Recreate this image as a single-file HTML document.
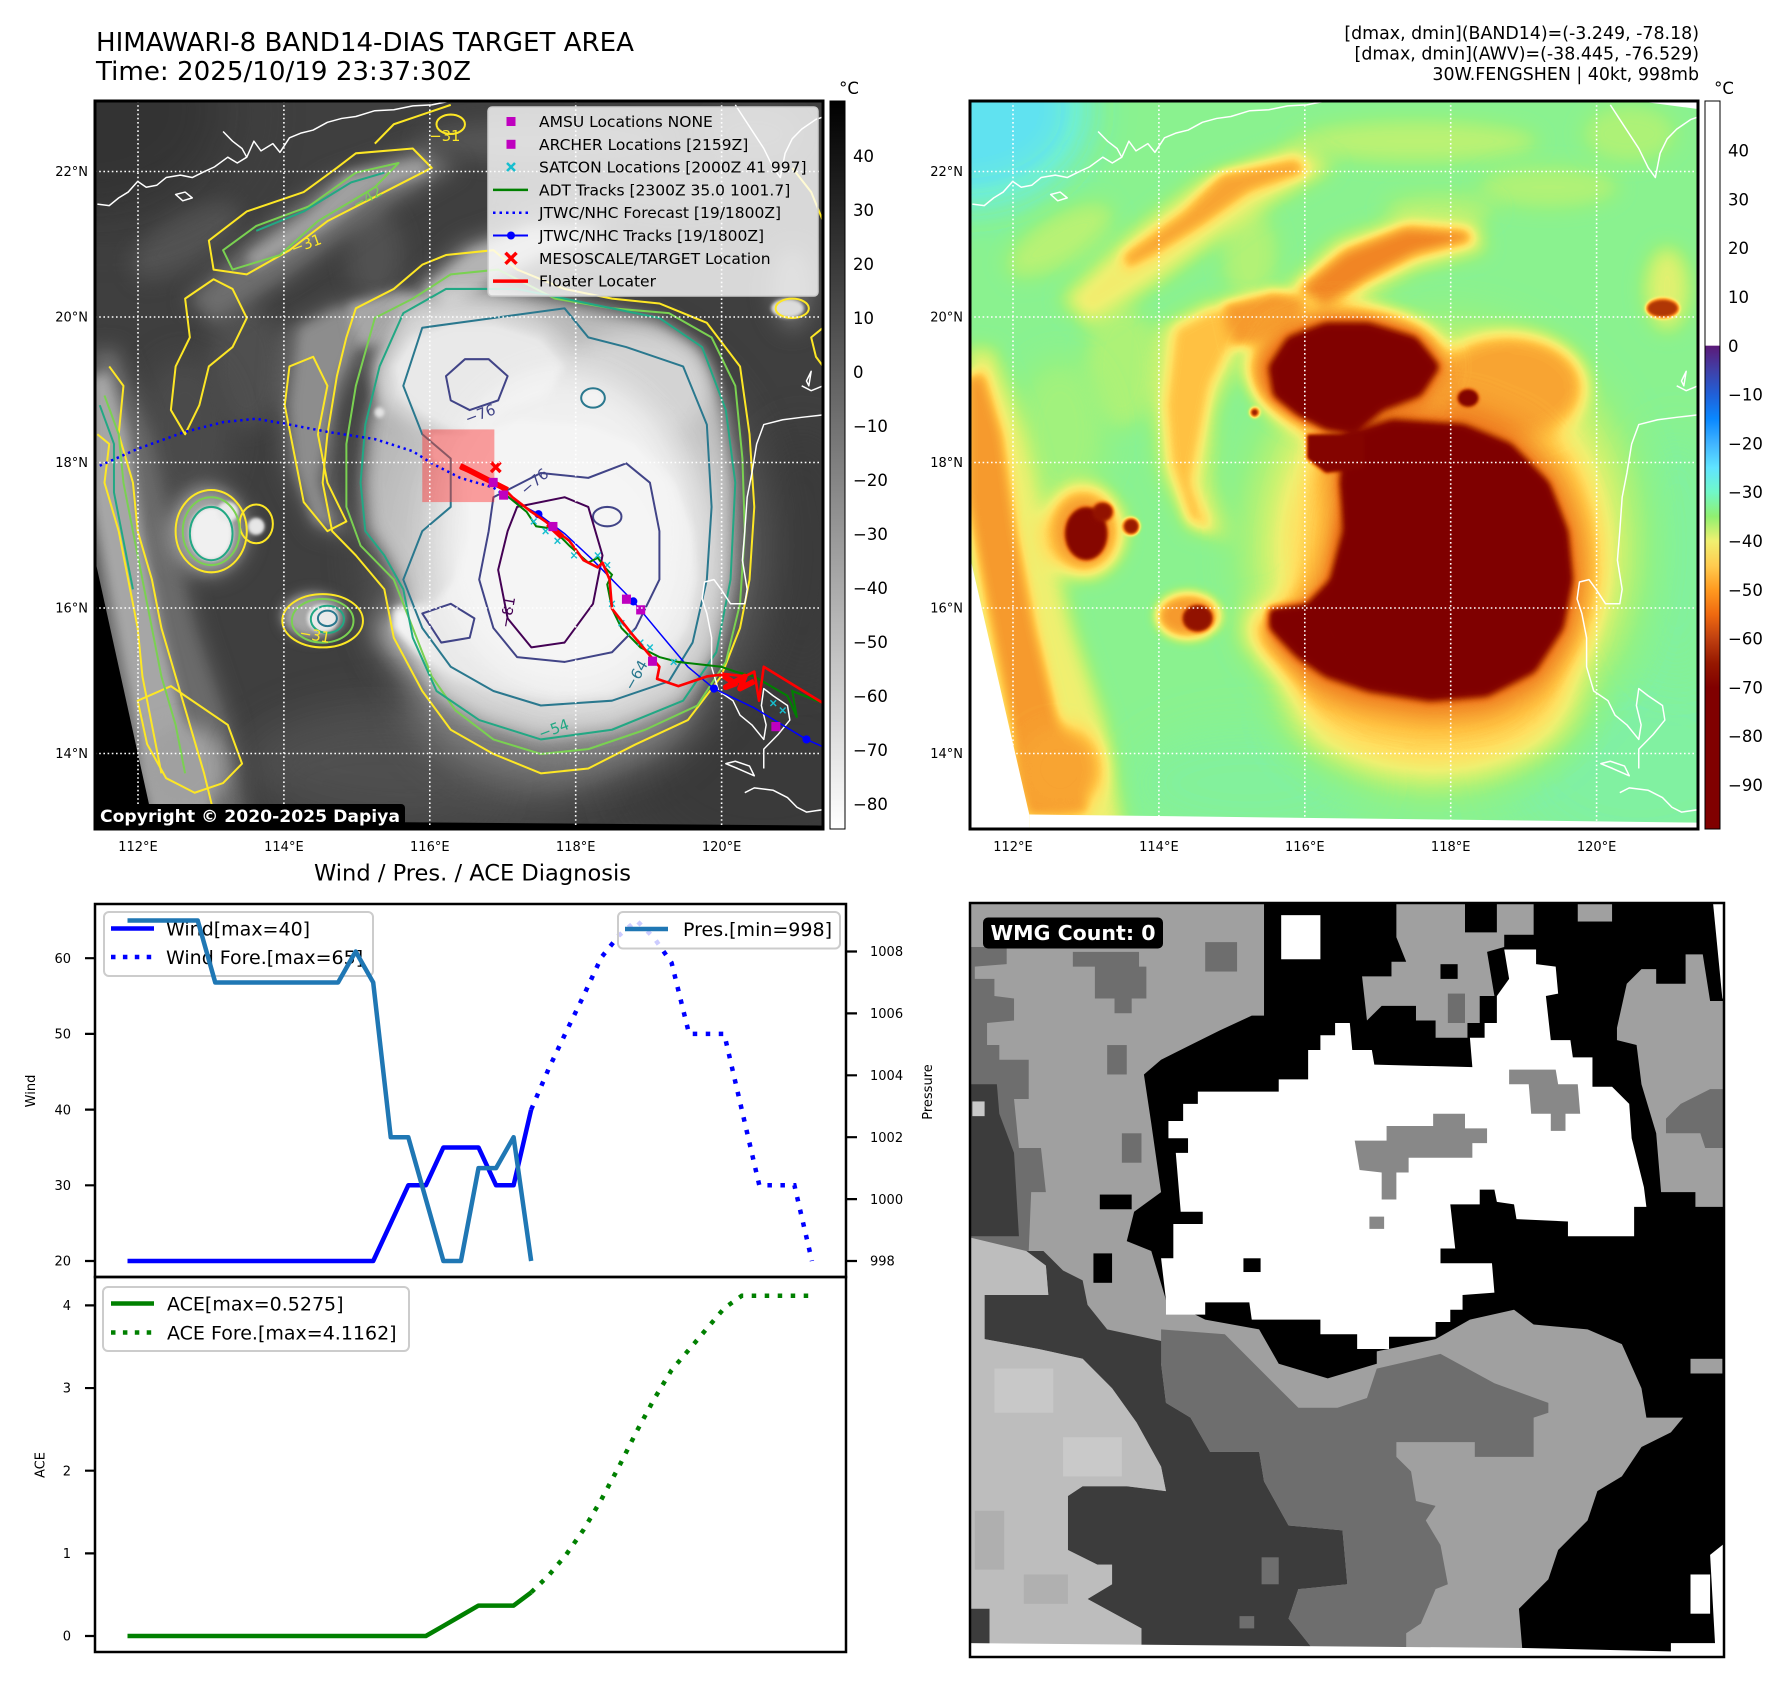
<!DOCTYPE html>
<html><head><meta charset="utf-8">
<style>
html,body{margin:0;padding:0;background:#fff;}
svg{display:block;}
text{font-family:"DejaVu Sans","Liberation Sans",sans-serif;}
</style></head><body>
<svg width="1788" height="1690" viewBox="0 0 1788 1690" xmlns="http://www.w3.org/2000/svg">
<defs>
<filter id="b4" x="-50%" y="-50%" width="200%" height="200%"><feGaussianBlur stdDeviation="4"/></filter>
<filter id="b8" x="-50%" y="-50%" width="200%" height="200%"><feGaussianBlur stdDeviation="8"/></filter>
<filter id="b12" x="-50%" y="-50%" width="200%" height="200%"><feGaussianBlur stdDeviation="12"/></filter>
<filter id="b20" x="-50%" y="-50%" width="200%" height="200%"><feGaussianBlur stdDeviation="20"/></filter>
<filter id="b30" x="-50%" y="-50%" width="200%" height="200%"><feGaussianBlur stdDeviation="30"/></filter>
<filter id="b45" x="-50%" y="-50%" width="200%" height="200%"><feGaussianBlur stdDeviation="45"/></filter>
<filter id="b60" x="-50%" y="-50%" width="200%" height="200%"><feGaussianBlur stdDeviation="60"/></filter>
<filter id="cmap" filterUnits="userSpaceOnUse" x="965" y="95" width="740" height="740" color-interpolation-filters="sRGB">
<feComponentTransfer>
<feFuncR type="table" tableValues=".25 .28 .31 .38 .44 .48 .53 .58 .68 .80 .94 1 1 .97 .94 .85 .72 .63 .53 .5 .5"/>
<feFuncG type="table" tableValues=".63 .72 .82 .89 .94 .94 .95 .95 .95 .95 .94 .88 .75 .63 .50 .38 .25 .13 .03 0 0"/>
<feFuncB type="table" tableValues="1 1 1 .94 .82 .70 .58 .52 .47 .44 .44 .38 .25 .19 .13 .06 .03 0 0 0 0"/>
</feComponentTransfer>
</filter>
<filter id="gmap" filterUnits="userSpaceOnUse" x="90" y="95" width="740" height="740" color-interpolation-filters="sRGB">
<feComponentTransfer>
<feFuncR type="table" tableValues=".05 .12 .19 .24 .31 .42 .56 .72 .85 .94 1"/>
<feFuncG type="table" tableValues=".05 .12 .19 .24 .31 .42 .56 .72 .85 .94 1"/>
<feFuncB type="table" tableValues=".05 .12 .19 .24 .31 .42 .56 .72 .85 .94 1"/>
</feComponentTransfer>
</filter>
<clipPath id="cL"><rect x="95" y="101" width="728" height="728"/></clipPath>
<clipPath id="cR"><rect x="970" y="101" width="728" height="728"/></clipPath>
<clipPath id="cW"><rect x="970" y="903" width="754" height="754"/></clipPath>
<linearGradient id="gCB1" x1="0" y1="0" x2="0" y2="1"><stop offset="0" stop-color="#000"/><stop offset="1" stop-color="#fff"/></linearGradient>
<linearGradient id="gCB2" x1="0" y1="0" x2="0" y2="1">
<stop offset="0" stop-color="#fff"/><stop offset="0.336" stop-color="#fff"/>
<stop offset="0.3363" stop-color="#5c1a78"/><stop offset="0.3698" stop-color="#4040a8"/>
<stop offset="0.4033" stop-color="#2060d8"/><stop offset="0.4368" stop-color="#0a88ff"/>
<stop offset="0.4703" stop-color="#40b4ff"/><stop offset="0.5038" stop-color="#60e4ff"/>
<stop offset="0.5374" stop-color="#70f8c8"/><stop offset="0.5709" stop-color="#90f070"/>
<stop offset="0.6044" stop-color="#f0f070"/><stop offset="0.6379" stop-color="#ffcc50"/>
<stop offset="0.6714" stop-color="#ff9a20"/><stop offset="0.7049" stop-color="#f06a10"/>
<stop offset="0.7385" stop-color="#c04010"/><stop offset="0.772" stop-color="#961800"/>
<stop offset="0.8055" stop-color="#800000"/><stop offset="1" stop-color="#800000"/>
</linearGradient>

<g id="field">
<rect x="-20" y="-20" width="1600" height="1580" fill="#505050"/>
<ellipse cx="0" cy="30" rx="260" ry="200" fill="#262626" filter="url(#b45)"/>
<ellipse cx="1420" cy="1380" rx="300" ry="220" fill="#464646" filter="url(#b60)"/>
<ellipse cx="1500" cy="950" rx="120" ry="260" fill="#494949" filter="url(#b45)"/>
<ellipse cx="600" cy="1420" rx="260" ry="120" fill="#4a4a4a" filter="url(#b45)"/>
<ellipse cx="950" cy="95" rx="260" ry="45" fill="#6c6c6c" filter="url(#b20)"/>
<ellipse cx="1230" cy="190" rx="150" ry="45" fill="#686868" filter="url(#b20)"/>
<ellipse cx="1000" cy="235" rx="120" ry="35" fill="#686868" filter="url(#b20)"/>
<ellipse cx="1400" cy="80" rx="100" ry="60" fill="#666" filter="url(#b20)"/>
<ellipse cx="200" cy="300" rx="130" ry="55" fill="#6a6a6a" filter="url(#b20)" transform="rotate(-30 200 300)"/>
<ellipse cx="330" cy="560" rx="80" ry="130" fill="#666" filter="url(#b20)"/>
<ellipse cx="600" cy="330" rx="60" ry="100" fill="#686868" filter="url(#b20)"/>
<ellipse cx="200" cy="700" rx="100" ry="160" fill="#606060" filter="url(#b30)"/>
<polygon points="200,420 350,280 500,170 700,100 780,150 600,250 420,380 260,480" fill="#828282" filter="url(#b20)"/>
<polygon points="330,330 460,240 540,160 700,130 720,160 600,200 500,270 400,330 340,360" fill="#a4a4a4" filter="url(#b12)"/>
<polygon points="650,420 780,300 930,250 1080,260 1100,320 950,360 800,440 700,480" fill="#868686" filter="url(#b20)"/>
<polygon points="700,400 800,320 930,270 1060,280 1070,300 950,330 850,380 760,440" fill="#b0b0b0" filter="url(#b12)"/>
<polygon points="400,480 520,420 600,430 580,540 530,650 520,800 560,920 470,900 410,780 390,620" fill="#7a7a7a" filter="url(#b20)"/>
<polygon points="440,480 520,440 580,450 560,520 520,600 500,700 480,800 520,900 470,880 430,760 420,640" fill="#989898" filter="url(#b12)"/>
<polygon points="540,430 650,400 720,420 700,480 620,520 560,520" fill="#a8a8a8" filter="url(#b12)"/>
<polygon points="0,520 60,520 130,700 180,900 230,1100 300,1300 340,1540 0,1540" fill="#808080" filter="url(#b20)"/>
<polygon points="0,580 40,570 80,700 110,900 150,1100 200,1300 260,1480 130,1490 0,830" fill="#a8a8a8" filter="url(#b12)"/>
<ellipse cx="200" cy="1390" rx="90" ry="90" fill="#a4a4a4" filter="url(#b20)"/>
<ellipse cx="1010" cy="930" rx="420" ry="460" fill="#767676" filter="url(#b45)"/>
<ellipse cx="1010" cy="940" rx="340" ry="380" fill="#919191" filter="url(#b30)"/>
<ellipse cx="980" cy="1250" rx="300" ry="160" fill="#939393" filter="url(#b45)"/>
<ellipse cx="1150" cy="600" rx="160" ry="110" fill="#a4a4a4" filter="url(#b20)"/>
<ellipse cx="800" cy="560" rx="210" ry="130" fill="#a6a6a6" filter="url(#b20)"/>
<ellipse cx="1480" cy="400" rx="50" ry="90" fill="#7a7a7a" filter="url(#b20)"/>
<ellipse cx="250" cy="900" rx="85" ry="95" fill="#a8a8a8" filter="url(#b20)"/>
<ellipse cx="470" cy="1075" rx="70" ry="50" fill="#a8a8a8" filter="url(#b12)"/>
<polygon points="800,700 900,670 1050,680 1150,720 1230,800 1270,900 1280,1000 1260,1100 1200,1190 1100,1240 980,1250 850,1230 760,1200 700,1160 640,1100 640,1060 720,1050 770,1000 800,900 790,800" fill="#bababa" filter="url(#b30)" transform="translate(1000 950) scale(1.12) translate(-1000 -950)"/>
<polygon points="640,560 680,500 760,470 850,470 950,500 1000,560 960,620 880,650 820,700 760,690 700,660 650,620" fill="#b8b8b8" filter="url(#b20)" transform="translate(820 580) scale(1.12) translate(-820 -580)"/>
<polygon points="800,700 900,670 1050,680 1150,720 1230,800 1270,900 1280,1000 1260,1100 1200,1190 1100,1240 980,1250 850,1230 760,1200 700,1160 640,1100 640,1060 720,1050 770,1000 800,900 790,800" fill="#f2f2f2" filter="url(#b8)"/>
<ellipse cx="1010" cy="960" rx="200" ry="220" fill="#fbfbfb" filter="url(#b30)"/>
<polygon points="640,560 680,500 760,470 850,470 950,500 1000,560 960,620 880,650 820,700 760,690 700,660 650,620" fill="#f0f0f0" filter="url(#b8)"/>
<polygon points="720,700 840,700 840,770 760,780 720,750" fill="#eaeaea" filter="url(#b4)"/>
<ellipse cx="1060" cy="625" rx="22" ry="18" fill="#ececec" filter="url(#b4)"/>
<ellipse cx="255" cy="905" rx="45" ry="55" fill="#e6e6e6" filter="url(#b4)"/>
<ellipse cx="290" cy="860" rx="22" ry="20" fill="#e0e0e0" filter="url(#b4)"/>
<ellipse cx="350" cy="890" rx="18" ry="18" fill="#dcdcdc" filter="url(#b4)"/>
<ellipse cx="490" cy="1080" rx="32" ry="28" fill="#e0e0e0" filter="url(#b4)"/>
<ellipse cx="610" cy="655" rx="10" ry="10" fill="#dddddd" filter="url(#b4)"/>
<ellipse cx="1470" cy="440" rx="35" ry="20" fill="#d0d0d0" filter="url(#b4)"/>
</g>

<g id="coast" fill="none" stroke="#fff" stroke-width="3.1" stroke-linejoin="round">
<path d="M15,225 L40,228 L60,212 L80,200 L100,178 L118,190 L140,186 L160,170 L190,165 L215,170 L240,158 L262,148 L290,128 L310,140 L330,128 L345,95 L360,115 L385,100 L400,118 L420,88 L445,78 L470,72 L500,56 L530,48 L560,44 L600,32 L640,30 L680,22 L720,20 L760,12"/>
<path d="M280,75 L300,95 L320,110 L330,128"/>
<path d="M180,205 L200,200 L215,212 L195,218 Z"/>
<path d="M1360,20 L1380,50 L1400,80 L1420,110 L1440,150 L1455,170 L1465,120 L1480,90 L1500,70 L1530,50 L1545,45"/>
<path d="M1545,660 L1500,665 L1460,670 L1420,680 L1405,720 L1395,780 L1385,830 L1380,900 L1375,960 L1385,1020 L1380,1050 L1350,1050 L1330,1020 L1315,1000 L1295,1005 L1290,1040 L1300,1070 L1310,1120 L1310,1180 L1325,1230 L1355,1250 L1370,1280 L1395,1300 L1420,1330 L1425,1300 L1415,1260 L1420,1225 L1440,1240 L1470,1260 L1475,1290 L1450,1320 L1420,1350 L1420,1390"/>
<path d="M1340,1380 L1365,1390 L1400,1405 L1390,1385 L1360,1375 Z"/>
<path d="M1380,1440 L1400,1430 L1440,1435 L1470,1450 L1490,1470 L1510,1480 L1545,1475"/>
<path d="M1500,600 L1520,610 L1545,600"/>
<path d="M1510,590 L1520,570 L1515,600 Z"/>
</g>
</defs>

<!-- Titles -->
<text x="96" y="51" font-size="26" textLength="538" lengthAdjust="spacingAndGlyphs">HIMAWARI-8 BAND14-DIAS TARGET AREA</text>
<text x="96" y="80" font-size="26" textLength="375" lengthAdjust="spacingAndGlyphs">Time: 2025/10/19 23:37:30Z</text>
<text x="1699" y="39" font-size="17.4" text-anchor="end">[dmax, dmin](BAND14)=(-3.249, -78.18)</text>
<text x="1699" y="59.5" font-size="17.4" text-anchor="end">[dmax, dmin](AWV)=(-38.445, -76.529)</text>
<text x="1699" y="80" font-size="17.4" text-anchor="end">30W.FENGSHEN | 40kt, 998mb</text>

<!-- LEFT MAP -->
<g clip-path="url(#cL)">
<g filter="url(#gmap)">
<g transform="translate(95,101) scale(0.4743,0.4844) translate(-10,-12)">
<use href="#field"/>
<ellipse cx="700" cy="1380" rx="380" ry="130" fill="#8a8a8a" opacity="0.45" filter="url(#b45)"/>
<ellipse cx="30" cy="40" rx="300" ry="220" fill="#505050" opacity="0.5" filter="url(#b60)"/>
<path d="M660,450 L750,400 L900,400 L1050,430 L1200,460 L1290,520 L1340,650 L1360,800 L1350,1000 L1320,1150 L1250,1250 L1100,1310 L950,1330 L820,1290 L730,1230 L680,1120 L660,1020 L620,950 L580,900 L570,800 L580,680 L610,560 Z" fill="#d8d8d8" opacity="0.7" filter="url(#b20)"/>
<ellipse cx="1000" cy="900" rx="270" ry="330" fill="#f6f6f6" opacity="0.6" filter="url(#b30)"/>
</g>
</g>
<g transform="translate(95,101) scale(0.4743,0.4844) translate(-10,-12)">
<polygon points="-20,825 132,1500 132,1560 -20,1560" fill="#000"/>
<polygon points="130,1497 1570,1508 1570,1560 130,1560" fill="#000"/>
<g fill="none" stroke-width="4.2" stroke-linejoin="round">
<g stroke="#fde725">
<path d="M560,440 L640,400 L700,350 L750,330 L850,320 L900,360 L1000,400 L1100,420 L1200,430 L1300,470 L1370,560 L1390,700 L1400,850 L1390,1000 L1370,1100 L1330,1200 L1260,1290 L1150,1340 L1050,1390 L950,1400 L850,1360 L760,1310 L700,1230 L640,1120 L620,1020 L560,950 L510,900 L490,800 L500,700 L520,580 L540,500 Z"/>
<path d="M250,300 L330,240 L450,200 L520,150 L560,120 L680,110 L720,150 L600,210 L500,260 L420,320 L330,370 L260,360 Z"/>
<path d="M200,420 L260,380 L300,400 L330,460 L300,520 L250,560 L230,640 L200,700 L170,650 L180,560 L210,500 Z"/>
<ellipse cx="255" cy="900" rx="75" ry="85"/>
<ellipse cx="490" cy="1085" rx="85" ry="55"/>
<path d="M40,560 L70,600 L60,700 L90,800 L100,900 L130,1000 L150,1100 L180,1200 L210,1300 L240,1400 L260,1480"/>
<path d="M15,700 L40,720 L30,800 L60,900 L80,1000 L100,1100 L110,1200 L130,1300 L150,1400"/>
<ellipse cx="1480" cy="440" rx="35" ry="20"/>
<path d="M1545,480 L1520,500 L1530,540 L1545,560"/>
<path d="M420,560 L470,540 L500,600 L480,700 L500,800 L540,880 L500,900 L450,840 L430,740 L410,640 Z"/>
<path d="M100,1250 L170,1220 L230,1260 L290,1300 L320,1380 L280,1420 L220,1440 L160,1410 L120,1340 Z"/>
<ellipse cx="760" cy="60" rx="30" ry="20"/>
<ellipse cx="350" cy="885" rx="35" ry="40"/>
<path d="M600,100 L640,60 L700,40 L760,20"/>
<path d="M1480,150 L1520,200 L1545,260"/>
</g>
<g stroke="#7ad151">
<path d="M600,460 L680,420 L760,370 L860,360 L980,420 L1100,440 L1220,450 L1310,500 L1360,600 L1375,750 L1380,900 L1370,1050 L1340,1170 L1280,1260 L1170,1310 L1050,1350 L950,1360 L850,1330 L770,1270 L720,1200 L680,1100 L640,1000 L570,930 L540,850 L540,720 L560,600 Z"/>
<path d="M280,320 L350,270 L460,230 L560,160 L650,140 L600,190 L480,260 L400,330 L300,360 Z"/>
<path d="M30,620 L60,700 L70,800 L90,900 L110,1000 L130,1100 L150,1200 L180,1300 L200,1400"/>
<ellipse cx="255" cy="900" rx="60" ry="70"/>
<ellipse cx="490" cy="1085" rx="65" ry="45"/>
</g>
<g stroke="#22a884">
<path d="M660,450 L750,400 L900,400 L1050,430 L1200,460 L1290,520 L1340,650 L1360,800 L1350,1000 L1320,1150 L1250,1250 L1100,1310 L950,1330 L820,1290 L730,1230 L680,1120 L660,1020 L620,950 L580,900 L570,800 L580,680 L610,560 Z"/>
<ellipse cx="255" cy="905" rx="45" ry="55"/>
<ellipse cx="500" cy="1082" rx="35" ry="28"/>
<path d="M20,640 L50,720 L50,820 L70,920 L90,1020"/>
<path d="M350,280 L450,240 L550,180 L620,160"/>
</g>
<g stroke="#2a788e">
<path d="M700,480 L850,460 L1000,440 L1050,500 L1130,520 L1250,560 L1300,680 L1310,850 L1300,1000 L1270,1130 L1220,1210 L1100,1250 L950,1260 L850,1230 L760,1180 L700,1100 L660,1000 L700,900 L760,850 L760,750 L700,700 L660,600 Z"/>
<ellipse cx="1060" cy="625" rx="25" ry="20"/>
<ellipse cx="500" cy="1080" rx="20" ry="16"/>
</g>
<g stroke="#414487">
<path d="M750,580 L790,545 L840,545 L880,580 L860,630 L800,650 L760,630 Z"/>
<path d="M850,830 L950,780 L1050,790 L1130,760 L1180,800 L1200,900 L1200,1000 L1150,1100 L1100,1150 L1000,1170 L900,1160 L850,1100 L820,1000 L840,900 Z"/>
<ellipse cx="1090" cy="870" rx="30" ry="20"/>
<path d="M700,1070 L760,1050 L810,1080 L800,1120 L740,1130 Z"/>
</g>
<g stroke="#440154">
<path d="M900,850 L1000,830 L1050,850 L1080,950 L1060,1050 L1000,1130 L930,1140 L880,1080 L860,980 L880,900 Z"/>
</g>
</g>
<g font-size="31">
<text x="790" y="670" fill="#414487" transform="rotate(-20 820 660)">−76</text>
<text x="905" y="810" fill="#414487" transform="rotate(-40 935 800)">−76</text>
<text x="850" y="1080" fill="#440154" transform="rotate(-80 880 1070)">−81</text>
<text x="1120" y="1210" fill="#2a788e" transform="rotate(-60 1150 1200)">−64</text>
<text x="945" y="1320" fill="#22a884" transform="rotate(-20 975 1310)">−54</text>
<text x="715" y="95" fill="#fde725">−31</text>
<text x="425" y="320" fill="#fde725" transform="rotate(-20 450 315)">−31</text>
<text x="555" y="225" fill="#7ad151" transform="rotate(-30 580 220)">−42</text>
<text x="440" y="1125" fill="#fde725" transform="rotate(10 470 1120)">−31</text>
</g>
<use href="#coast"/>
<rect x="700" y="690" width="152" height="150" fill="#ff3030" opacity="0.45"/>
<path d="M20,765 L100,730 L200,695 L280,675 L350,668 L420,680 L500,695 L600,710 L680,735 L720,760 L780,790 L850,810 L880,830" fill="none" stroke="#0000ff" stroke-width="5.2" stroke-dasharray="5,8"/>
<path d="M880,830 L945,865 L1000,905 L1060,960 L1100,1000 L1145,1045 L1200,1110 L1260,1180 L1315,1225 L1400,1265 L1510,1330 L1570,1356" fill="none" stroke="#0000ff" stroke-width="3.1"/>
<g fill="#0000ff"><circle cx="945" cy="865" r="8.5"/><circle cx="1145" cy="1045" r="8.5"/><circle cx="1315" cy="1225" r="8.5"/><circle cx="1510" cy="1330" r="8.5"/></g>
<path d="M870,820 L920,860 L940,890 L975,895 L1010,930 L1050,965 L1070,955 L1085,975 L1100,990 L1090,1010 L1100,1060 L1120,1100 L1160,1140 L1200,1160 L1240,1170 L1330,1180 L1360,1190 L1400,1200 L1470,1240 L1490,1285 L1480,1230 L1570,1265" fill="none" stroke="#008000" stroke-width="4.2"/>
<g stroke="#17becf" stroke-width="3">
<path d="M929,874 l12,12 m0,-12 l-12,12 M954,894 l12,12 m0,-12 l-12,12 M979,914 l12,12 m0,-12 l-12,12 M1014,944 l12,12 m0,-12 l-12,12 M1064,944 l12,12 m0,-12 l-12,12 M1084,964 l12,12 m0,-12 l-12,12 M1094,1044 l12,12 m0,-12 l-12,12 M1114,1084 l12,12 m0,-12 l-12,12 M1134,1104 l12,12 m0,-12 l-12,12 M1154,1124 l12,12 m0,-12 l-12,12 M1174,1134 l12,12 m0,-12 l-12,12 M1224,1164 l12,12 m0,-12 l-12,12 M1434,1249 l12,12 m0,-12 l-12,12 M1454,1264 l12,12 m0,-12 l-12,12"/>
</g>
<path d="M780,770 L830,790 L870,810 L890,830 L930,860 L960,880 L990,905 L1010,920 L1040,960 L1070,975 L1080,965 L1095,1000 L1100,1060 L1140,1110 L1200,1180 L1195,1205 L1240,1220 L1300,1200 L1340,1195 L1380,1200 L1400,1190 L1410,1250 L1420,1180 L1570,1270" fill="none" stroke="#ff0000" stroke-width="5.5" stroke-linejoin="round"/>
<path d="M780,765 L850,800 L880,815 M965,885 L995,912 M1330,1195 L1360,1215 L1340,1222 L1380,1200 L1370,1225 L1400,1210" fill="none" stroke="#ff0000" stroke-width="12" stroke-linejoin="round"/>
<path d="M845,758 l20,20 m0,-20 l-20,20" stroke="#ff0000" stroke-width="7"/>
<g fill="#bf00bf">
<rect x="840" y="790" width="19" height="19"/><rect x="862" y="816" width="19" height="19"/><rect x="966" y="881" width="19" height="19"/><rect x="1121" y="1031" width="19" height="19"/><rect x="1151" y="1053" width="19" height="19"/><rect x="1176" y="1159" width="19" height="19"/><rect x="1436" y="1294" width="19" height="19"/>
</g>
</g>
<g stroke="#fff" stroke-width="1.6" stroke-dasharray="1.6,2.6">
<path d="M138,101 V829 M283.9,101 V829 M429.8,101 V829 M575.7,101 V829 M721.6,101 V829"/>
<path d="M95,171.5 H823 M95,317 H823 M95,462.5 H823 M95,608 H823 M95,753.5 H823"/>
</g>
<rect x="488" y="107" width="330" height="189" rx="4" fill="#fff" fill-opacity="0.8" stroke="#cccccc" stroke-width="1.5"/>
<rect x="506.5" y="117" width="9" height="9" fill="#bf00bf"/>
<rect x="506.5" y="139.8" width="9" height="9" fill="#bf00bf"/>
<path d="M507,163 l8,8 m0,-8 l-8,8" stroke="#17becf" stroke-width="2.5"/>
<line x1="493" y1="189.9" x2="528" y2="189.9" stroke="#008000" stroke-width="2.5"/>
<line x1="493" y1="212.7" x2="528" y2="212.7" stroke="#0000ff" stroke-width="2.5" stroke-dasharray="2.5,4"/>
<line x1="493" y1="235.5" x2="528" y2="235.5" stroke="#0000ff" stroke-width="2"/>
<circle cx="511" cy="235.5" r="4" fill="#0000ff"/>
<path d="M505.5,252.8 l11,11 m0,-11 l-11,11" stroke="#ff0000" stroke-width="3.5"/>
<line x1="493" y1="281.1" x2="528" y2="281.1" stroke="#ff0000" stroke-width="3.5"/>
<g font-size="15.5" fill="#000">
<text x="539" y="127">AMSU Locations NONE</text>
<text x="539" y="149.8">ARCHER Locations [2159Z]</text>
<text x="539" y="172.6">SATCON Locations [2000Z 41 997]</text>
<text x="539" y="195.4">ADT Tracks [2300Z 35.0 1001.7]</text>
<text x="539" y="218.2">JTWC/NHC Forecast [19/1800Z]</text>
<text x="539" y="241">JTWC/NHC Tracks [19/1800Z]</text>
<text x="539" y="263.8">MESOSCALE/TARGET Location</text>
<text x="539" y="286.6">Floater Locater</text>
</g>
<rect x="94" y="804" width="311" height="30" rx="4" fill="#000"/>
<text x="100" y="822" font-size="17" font-weight="bold" fill="#fff" textLength="300" lengthAdjust="spacingAndGlyphs">Copyright © 2020-2025 Dapiya</text>
</g>
<rect x="95" y="101" width="728" height="728" fill="none" stroke="#000" stroke-width="3"/>

<rect x="830" y="101" width="15" height="728" fill="url(#gCB1)" stroke="#000" stroke-width="1"/>
<text x="849" y="94" font-size="16.5" text-anchor="middle">°C</text>
<g font-size="16.5">
<text x="853" y="162.2">40</text><text x="853" y="216.2">30</text><text x="853" y="270.1">20</text><text x="853" y="324.1">10</text><text x="853" y="378.1">0</text>
<text x="853" y="432.1">−10</text><text x="853" y="486">−20</text><text x="853" y="540">−30</text><text x="853" y="594">−40</text><text x="853" y="648">−50</text>
<text x="853" y="701.9">−60</text><text x="853" y="755.9">−70</text><text x="853" y="809.9">−80</text>
</g>

<g font-size="13" text-anchor="middle">
<text x="138" y="851">112°E</text><text x="283.9" y="851">114°E</text><text x="429.8" y="851">116°E</text><text x="575.7" y="851">118°E</text><text x="721.6" y="851">120°E</text>
<text x="1013" y="851">112°E</text><text x="1158.9" y="851">114°E</text><text x="1304.8" y="851">116°E</text><text x="1450.7" y="851">118°E</text><text x="1596.6" y="851">120°E</text>
</g>
<g font-size="13" text-anchor="end">
<text x="88" y="176.2">22°N</text><text x="88" y="321.7">20°N</text><text x="88" y="467.2">18°N</text><text x="88" y="612.7">16°N</text><text x="88" y="758.2">14°N</text>
<text x="963" y="176.2">22°N</text><text x="963" y="321.7">20°N</text><text x="963" y="467.2">18°N</text><text x="963" y="612.7">16°N</text><text x="963" y="758.2">14°N</text>
</g>

<!-- RIGHT MAP -->
<g clip-path="url(#cR)">
<g filter="url(#cmap)">
<g transform="translate(970,101) scale(0.4743,0.4844) translate(-10,-12)">
<use href="#field"/>
</g>
</g>
<g transform="translate(970,101) scale(0.4743,0.4844) translate(-10,-12)">
<polygon points="-20,825 135,1485 135,1560 -20,1560" fill="#fff"/>
<polygon points="135,1485 1570,1502 1570,1560 135,1560" fill="#fff"/>
<polygon points="1250,-10 1570,-10 1570,30 1540,28" fill="#fff"/>
<use href="#coast"/>
</g>
<g stroke="#fff" stroke-width="1.6" stroke-dasharray="1.6,2.6">
<path d="M1013,101 V829 M1158.9,101 V829 M1304.8,101 V829 M1450.7,101 V829 M1596.6,101 V829"/>
<path d="M970,171.5 H1698 M970,317 H1698 M970,462.5 H1698 M970,608 H1698 M970,753.5 H1698"/>
</g>
</g>
<rect x="970" y="101" width="728" height="728" fill="none" stroke="#000" stroke-width="3"/>

<rect x="1705" y="101" width="15" height="728" fill="url(#gCB2)" stroke="#000" stroke-width="1"/>
<text x="1724" y="94" font-size="16.5" text-anchor="middle">°C</text>
<g font-size="16.5">
<text x="1728" y="156.6">40</text><text x="1728" y="205.4">30</text><text x="1728" y="254.2">20</text><text x="1728" y="303">10</text><text x="1728" y="351.8">0</text>
<text x="1728" y="400.6">−10</text><text x="1728" y="449.4">−20</text><text x="1728" y="498.2">−30</text><text x="1728" y="547">−40</text><text x="1728" y="595.8">−50</text>
<text x="1728" y="644.6">−60</text><text x="1728" y="693.4">−70</text><text x="1728" y="742.2">−80</text><text x="1728" y="791">−90</text>
</g>

<!-- CHARTS -->
<text x="472.5" y="880.5" font-size="22" text-anchor="middle" textLength="317" lengthAdjust="spacingAndGlyphs">Wind / Pres. / ACE Diagnosis</text>

<path d="M127.5,1261 L373.2,1261 L390.75,1223.15 L408.3,1185.3 L425.85,1185.3 L443.4,1147.45 L478.5,1147.45 L496.05,1185.3 L513.6,1185.3 L531.15,1109.6" fill="none" stroke="#0000ff" stroke-width="4.5" stroke-linejoin="round"/>
<path d="M531.15,1109.6 L548.7,1068.7 L566.25,1031.6 L583.8,995.3 L601.35,957.4 L618.9,935.5 L636.45,920.4 L654,937.8 L671.55,962.7 L689.1,1033.9 L706.65,1033.9 L724.2,1033.9 L741.75,1109.6 L759.3,1185.3 L776.85,1185.3 L794.4,1185.3 L811.95,1261" fill="none" stroke="#0000ff" stroke-width="4.5" stroke-dasharray="4.5,8.5"/>
<rect x="104" y="912" width="269" height="64" rx="5" fill="#fff" fill-opacity="0.8" stroke="#cccccc" stroke-width="2"/>
<line x1="111" y1="928.5" x2="154" y2="928.5" stroke="#0000ff" stroke-width="4.5"/>
<line x1="111" y1="957" x2="154" y2="957" stroke="#0000ff" stroke-width="4.5" stroke-dasharray="4.5,7.4"/>
<text x="166" y="935.5" font-size="19">Wind[max=40]</text>
<text x="166" y="964" font-size="19">Wind Fore.[max=65]</text>
<path d="M127.5,920.55 L197.7,920.55 L215.25,982.45 L338.1,982.45 L355.65,951.5 L373.2,982.45 L390.75,1137.2 L408.3,1137.2 L425.85,1199.1 L443.4,1261 L460.95,1261 L478.5,1168.15 L496.05,1168.15 L513.6,1137.2 L531.15,1261" fill="none" stroke="#1f77b4" stroke-width="4.5" stroke-linejoin="round"/>
<rect x="618" y="912" width="222" height="36.5" rx="5" fill="#fff" fill-opacity="0.8" stroke="#cccccc" stroke-width="2"/>
<line x1="625" y1="929" x2="668" y2="929" stroke="#1f77b4" stroke-width="4.5"/>
<text x="683" y="936" font-size="19">Pres.[min=998]</text>
<rect x="95" y="904" width="751" height="373" fill="none" stroke="#000" stroke-width="2.5"/>
<g stroke="#000" stroke-width="2.2">
<path d="M85,1261 H95 M85,1185.3 H95 M85,1109.6 H95 M85,1033.9 H95 M85,958.2 H95"/>
<path d="M846,1261 H857 M846,1199.1 H857 M846,1137.2 H857 M846,1075.3 H857 M846,1013.4 H857 M846,951.5 H857"/>
<path d="M85,1636 H95 M85,1553.35 H95 M85,1470.7 H95 M85,1388.05 H95 M85,1305.4 H95"/>
</g>
<g font-size="13" text-anchor="end">
<text x="71" y="1265.7">20</text><text x="71" y="1190">30</text><text x="71" y="1114.3">40</text><text x="71" y="1038.6">50</text><text x="71" y="962.9">60</text>
<text x="71" y="1640.7">0</text><text x="71" y="1558">1</text><text x="71" y="1475.4">2</text><text x="71" y="1392.7">3</text><text x="71" y="1310.1">4</text>
</g>
<g font-size="13">
<text x="870" y="1265.7">998</text><text x="870" y="1203.8">1000</text><text x="870" y="1141.9">1002</text><text x="870" y="1080">1004</text><text x="870" y="1018.1">1006</text><text x="870" y="956.2">1008</text>
</g>
<text x="35" y="1091" font-size="13" text-anchor="middle" transform="rotate(-90 35 1091)">Wind</text>
<text x="932" y="1092" font-size="13" text-anchor="middle" transform="rotate(-90 932 1092)">Pressure</text>
<text x="44.5" y="1465" font-size="13" text-anchor="middle" transform="rotate(-90 44.5 1465)">ACE</text>

<path d="M127.5,1636 L425.85,1636 L443.4,1625.9 L460.95,1615.75 L478.5,1605.6 L496.05,1605.6 L513.6,1605.6 L531.15,1592.4" fill="none" stroke="#008000" stroke-width="4.5" stroke-linejoin="round"/>
<path d="M531.15,1592.4 L548.7,1575.4 L566.25,1554.5 L583.8,1529.4 L601.35,1499.5 L618.9,1466.7 L636.45,1431.8 L654,1399.3 L671.55,1370.1 L689.1,1349.5 L706.65,1328.8 L724.2,1308.2 L741.75,1295.8 L759.3,1295.8 L776.85,1295.8 L794.4,1295.8 L811.95,1295.8" fill="none" stroke="#008000" stroke-width="4.5" stroke-dasharray="4.5,8.5"/>
<rect x="103" y="1287" width="306" height="64" rx="5" fill="#fff" fill-opacity="0.8" stroke="#cccccc" stroke-width="2"/>
<line x1="111" y1="1303.5" x2="154" y2="1303.5" stroke="#008000" stroke-width="4.5"/>
<line x1="111" y1="1332.5" x2="154" y2="1332.5" stroke="#008000" stroke-width="4.5" stroke-dasharray="4.5,7.4"/>
<text x="167" y="1310.5" font-size="19">ACE[max=0.5275]</text>
<text x="167" y="1339.5" font-size="19">ACE Fore.[max=4.1162]</text>
<rect x="95" y="1277" width="751" height="375" fill="none" stroke="#000" stroke-width="2.5"/>

<!-- WMG -->
<g clip-path="url(#cW)">
<g transform="translate(965,898) scale(0.4902)">
<rect x="0" y="0" width="1570" height="1570" fill="#a0a0a0"/>
<polygon points="0,100 85,100 85,135 20,140 20,165 60,165 60,200 100,205 100,250 45,255 45,300 70,300 70,330 130,330 130,410 100,410 110,510 155,510 165,600 135,600 130,720 0,720" fill="#6e6e6e"/>
<polygon points="0,380 65,380 70,440 100,520 110,690 0,690" fill="#3c3c3c"/>
<rect x="15" y="415" width="25" height="30" fill="#c8c8c8"/>
<rect x="490" y="90" width="65" height="60" fill="#6e6e6e"/>
<polygon points="220,110 355,110 355,140 370,140 370,205 340,205 340,235 305,235 305,205 265,205 265,140 220,140" fill="#6e6e6e"/>
<rect x="290" y="300" width="40" height="60" fill="#6e6e6e"/>
<rect x="320" y="480" width="40" height="60" fill="#6e6e6e"/>
<polygon points="40,810 170,810 165,750 125,720 160,720 200,760 240,780 250,830 290,880 430,910 400,950 410,1030 460,1060 500,1130 600,1130 610,1190 660,1280 770,1290 780,1400 680,1410 660,1470 740,1570 360,1570 360,1490 250,1430 300,1400 300,1360 270,1360 210,1330 210,1220 240,1200 330,1200 410,1210 400,1160 350,1070 300,1000 240,940 150,920 40,900" fill="#3c3c3c"/>
<polygon points="0,690 125,720 165,750 170,810 40,810 40,900 150,920 240,940 300,1000 350,1070 400,1160 410,1210 330,1200 240,1200 210,1220 210,1330 270,1360 300,1360 300,1400 250,1430 360,1490 360,1570 50,1570 50,1450 0,1450" fill="#bdbdbd"/>
<rect x="60" y="960" width="120" height="90" fill="#c8c8c8"/>
<rect x="200" y="1100" width="120" height="80" fill="#c9c9c9"/>
<rect x="20" y="1250" width="60" height="120" fill="#afafaf"/>
<rect x="120" y="1380" width="90" height="60" fill="#b0b0b0"/>
<rect x="0" y="1450" width="50" height="120" fill="#3c3c3c"/>
<polygon points="610,0 1570,0 1570,1570 1140,1570 1130,1450 1160,1420 1190,1390 1210,1330 1240,1300 1270,1270 1290,1210 1340,1180 1380,1120 1440,1090 1465,1060 1390,1060 1380,1000 1340,910 1270,880 1160,870 1120,840 1030,860 960,900 840,925 840,950 740,980 640,950 600,880 490,860 410,820 380,720 330,700 345,640 400,600 380,460 365,360 400,330 460,300 520,270 585,240 610,240" fill="#000"/>
<rect x="275" y="605" width="65" height="30" fill="#000"/>
<rect x="262" y="725" width="38" height="60" fill="#000"/>
<polygon points="880,0 1020,0 1020,70 1100,70 1100,100 1065,110 1080,200 1050,200 1050,255 1025,255 1025,285 960,285 960,250 920,250 920,220 850,220 820,250 810,160 870,160 870,130 900,130 880,80" fill="#a0a0a0"/>
<rect x="1085" y="0" width="75" height="75" fill="#a0a0a0"/>
<rect x="1250" y="0" width="70" height="48" fill="#a0a0a0"/>
<rect x="985" y="195" width="35" height="60" fill="#6e6e6e"/>
<rect x="970" y="135" width="35" height="30" fill="#000"/>
<polygon points="1330,265 1350,175 1380,145 1410,145 1410,175 1470,175 1470,115 1505,115 1520,210 1570,210 1570,630 1490,630 1490,600 1420,600 1410,480 1380,380 1370,300 1330,290" fill="#a0a0a0"/>
<polygon points="1430,450 1460,420 1520,390 1570,390 1570,510 1510,510 1500,480 1430,480" fill="#6e6e6e"/>
<rect x="1480" y="940" width="65" height="30" fill="#a0a0a0"/>
<polygon points="400,880 530,890 560,920 600,960 640,1000 680,1040 760,1040 820,1020 840,960 970,930 1080,990 1190,1030 1190,1050 1160,1060 1160,1140 1040,1140 1040,1110 880,1110 880,1140 910,1170 920,1230 960,1240 940,1270 970,1320 985,1400 960,1410 930,1480 900,1500 900,1570 740,1570 660,1470 680,1410 780,1400 770,1290 660,1280 610,1190 600,1130 500,1130 460,1060 410,1030 400,950" fill="#6e6e6e"/>
<rect x="605" y="1345" width="35" height="55" fill="#6e6e6e"/>
<rect x="560" y="1465" width="30" height="25" fill="#6e6e6e"/>
<polygon points="475,395 640,395 640,370 700,370 700,310 725,310 725,280 755,280 755,255 785,255 790,310 830,310 835,340 1035,345 1030,285 1060,285 1060,255 1085,255 1085,200 1110,165 1100,105 1165,105 1165,135 1205,140 1210,195 1185,200 1195,290 1235,290 1240,325 1280,325 1280,385 1320,385 1355,420 1360,490 1385,590 1390,630 1365,630 1365,690 1230,690 1230,660 1125,655 1120,625 1085,620 1080,595 1050,595 1050,625 990,625 1000,715 970,715 970,745 1075,745 1080,805 1015,810 1015,840 990,840 990,865 960,865 960,895 865,895 865,920 800,920 800,890 725,890 725,860 585,860 580,825 490,825 490,850 410,850 410,820 400,735 425,735 425,665 485,665 485,640 440,640 430,520 455,520 455,490 415,490 415,455 445,455 445,420 475,420" fill="#fff"/>
<polygon points="795,495 860,495 860,465 955,465 955,440 1020,440 1020,470 1065,470 1065,500 1035,500 1035,530 905,530 905,560 880,560 880,615 850,615 850,560 805,555" fill="#888"/>
<rect x="825" y="650" width="30" height="25" fill="#888"/>
<polygon points="1110,350 1205,350 1210,380 1250,380 1255,440 1225,440 1225,475 1195,475 1195,440 1155,440 1150,380 1110,380" fill="#888"/>
<rect x="568" y="735" width="35" height="28" fill="#000"/>
<rect x="645" y="35" width="80" height="90" fill="#fff"/>
<polygon points="1525,0 1570,0 1570,210 1545,205" fill="#fff"/>
<polygon points="1520,1340 1570,1300 1570,1570 1440,1570 1440,1520 1530,1520" fill="#fff"/>
<rect x="1480" y="1380" width="40" height="80" fill="#fff"/>
<polygon points="0,1520 1140,1530 1570,1540 1570,1570 0,1570" fill="#fff"/>
</g>
</g>
<rect x="970" y="903" width="754" height="754" fill="none" stroke="#000" stroke-width="2.5"/>
<rect x="983" y="917.5" width="180" height="31" rx="5" fill="#000"/>
<text x="990.5" y="940" font-size="20" font-weight="bold" fill="#fff" textLength="165" lengthAdjust="spacingAndGlyphs">WMG Count: 0</text>
</svg>
</body></html>
